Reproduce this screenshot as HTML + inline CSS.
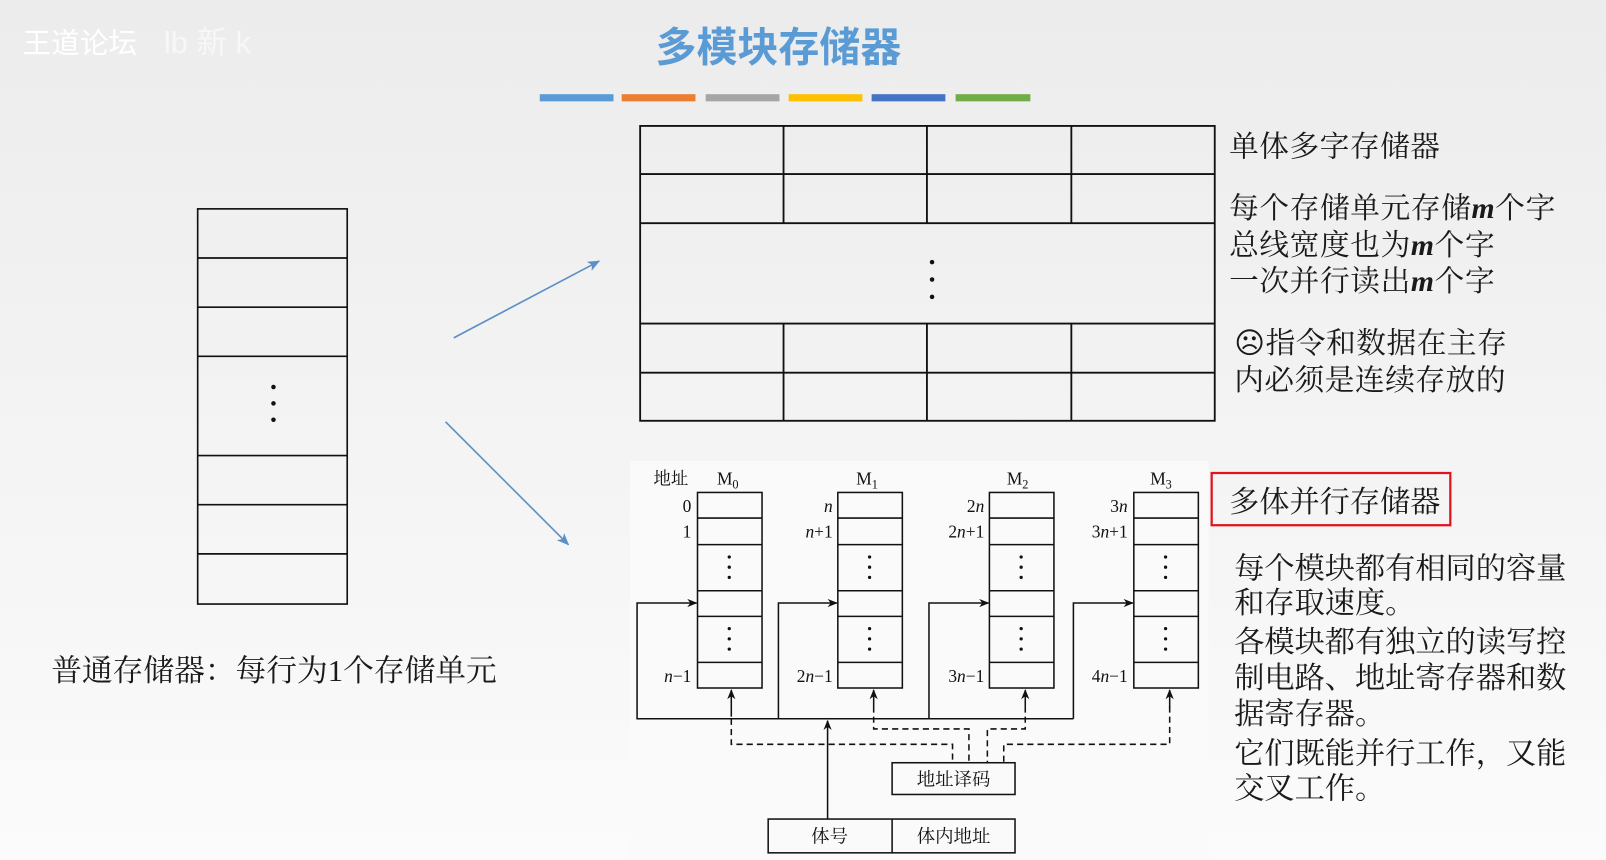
<!DOCTYPE html>
<html><head><meta charset="utf-8"><style>
html,body{margin:0;padding:0;width:1606px;height:860px;overflow:hidden;background:#f2f2f2}
svg{display:block}
.t{font-family:"Liberation Serif","Noto Serif CJK SC",serif;fill:#1a1a1a}
.s{font-family:"Liberation Serif","Noto Serif CJK SC",serif;fill:#111}
</style></head><body>
<svg width="1606" height="860" viewBox="0 0 1568 840" preserveAspectRatio="none" xmlns="http://www.w3.org/2000/svg">
<defs>
<linearGradient id="bg" x1="0" y1="0" x2="0" y2="1"><stop offset="0" stop-color="#ececec"/><stop offset="1" stop-color="#fbfbfb"/></linearGradient>
<marker id="a" markerWidth="10" markerHeight="8" refX="9" refY="4" orient="auto" markerUnits="userSpaceOnUse"><path d="M0,0 L10,4 L0,8 L3,4 Z" fill="#111"/></marker>
<marker id="b" markerWidth="12" markerHeight="10" refX="11" refY="5" orient="auto" markerUnits="userSpaceOnUse"><path d="M0,0 L12,5 L0,10 L3,5 Z" fill="#5b8fc7"/></marker>
</defs>
<rect width="1568" height="840" fill="url(#bg)"/>
<text x="22" y="52" font-family="Liberation Sans,Noto Sans CJK SC,sans-serif" font-size="28" fill="#fff">王道论坛</text>
<text x="160" y="52" font-family="Liberation Sans,Noto Sans CJK SC,sans-serif" font-size="30" fill="#fff" opacity="0.6">lb 新 k</text>
<text x="760" y="60" text-anchor="middle" font-family="Liberation Sans,Noto Sans CJK SC,sans-serif" font-size="40" font-weight="bold" fill="#5b9bd5">多模块存储器</text>
<g>
<rect x="527" y="92" width="72" height="7" fill="#5b9bd5"/>
<rect x="607" y="92" width="72" height="7" fill="#ed7d31"/>
<rect x="689" y="92" width="72" height="7" fill="#a5a5a5"/>
<rect x="770" y="92" width="72" height="7" fill="#ffc000"/>
<rect x="851" y="92" width="72" height="7" fill="#4472c4"/>
<rect x="933" y="92" width="73" height="7" fill="#70ad47"/>
</g>
<g stroke="#111" stroke-width="1.6" fill="none">
<rect x="193" y="204" width="146" height="386"/>
<line x1="193" y1="252" x2="339" y2="252"/><line x1="193" y1="300" x2="339" y2="300"/>
<line x1="193" y1="348" x2="339" y2="348"/><line x1="193" y1="445" x2="339" y2="445"/>
<line x1="193" y1="493" x2="339" y2="493"/><line x1="193" y1="541" x2="339" y2="541"/>
</g>
<g fill="#111"><circle cx="267" cy="378" r="2.2"/><circle cx="267" cy="394" r="2.2"/><circle cx="267" cy="410" r="2.2"/></g>
<text class="t" x="50" y="665" font-size="30">普通存储器：每行为1个存储单元</text>
<line x1="443" y1="330" x2="585" y2="255" stroke="#5b8fc7" stroke-width="1.6" marker-end="url(#b)"/>
<line x1="435" y1="412" x2="555" y2="532" stroke="#5b8fc7" stroke-width="1.6" marker-end="url(#b)"/>
<g stroke="#111" stroke-width="1.8" fill="none">
<rect x="625" y="123" width="561" height="288"/>
<line x1="625" y1="170" x2="1186" y2="170"/><line x1="625" y1="218" x2="1186" y2="218"/>
<line x1="625" y1="316" x2="1186" y2="316"/><line x1="625" y1="364" x2="1186" y2="364"/>
<line x1="765" y1="123" x2="765" y2="218"/><line x1="905" y1="123" x2="905" y2="218"/><line x1="1046" y1="123" x2="1046" y2="218"/>
<line x1="765" y1="316" x2="765" y2="411"/><line x1="905" y1="316" x2="905" y2="411"/><line x1="1046" y1="316" x2="1046" y2="411"/>
</g>
<g fill="#111"><circle cx="910" cy="256" r="2.2"/><circle cx="910" cy="273" r="2.2"/><circle cx="910" cy="290" r="2.2"/></g>
<g class="t" font-size="29">
<text x="1200" y="153" letter-spacing="0.5">单体多字存储器</text>
<text x="1200" y="213" letter-spacing="0.6">每个存储单元存储<tspan font-style="italic" font-weight="bold">m</tspan>个字</text>
<text x="1200" y="249" letter-spacing="0.6">总线宽度也为<tspan font-style="italic" font-weight="bold">m</tspan>个字</text>
<text x="1200" y="284" letter-spacing="0.6">一次并行读出<tspan font-style="italic" font-weight="bold">m</tspan>个字</text>
<text x="1205" y="345" letter-spacing="0.5">☹指令和数据在主存</text>
<text x="1205" y="381" letter-spacing="0.5">内必须是连续存放的</text>
</g>
<rect x="615" y="450" width="565" height="390" fill="#fafafa"/>
<g class="s" font-size="17">
<text x="638" y="473">地址</text>
<text x="700" y="473">M<tspan font-size="12" dy="4">0</tspan></text>
<text x="836" y="473">M<tspan font-size="12" dy="4">1</tspan></text>
<text x="983" y="473">M<tspan font-size="12" dy="4">2</tspan></text>
<text x="1123" y="473">M<tspan font-size="12" dy="4">3</tspan></text>
</g>
<g class="s" font-size="17" text-anchor="end">
<text x="675" y="500">0</text><text x="675" y="525">1</text><text x="675" y="666"><tspan font-style="italic">n</tspan>−1</text>
<text x="813" y="500" font-style="italic">n</text><text x="813" y="525"><tspan font-style="italic">n</tspan>+1</text><text x="813" y="666">2<tspan font-style="italic">n</tspan>−1</text>
<text x="961" y="500">2<tspan font-style="italic">n</tspan></text><text x="961" y="525">2<tspan font-style="italic">n</tspan>+1</text><text x="961" y="666">3<tspan font-style="italic">n</tspan>−1</text>
<text x="1101" y="500">3<tspan font-style="italic">n</tspan></text><text x="1101" y="525">3<tspan font-style="italic">n</tspan>+1</text><text x="1101" y="666">4<tspan font-style="italic">n</tspan>−1</text>
</g>
<g stroke="#111" stroke-width="1.5" fill="none">
<g id="m0"><rect x="681" y="481" width="63" height="191"/><line x1="681" y1="506" x2="744" y2="506"/><line x1="681" y1="532" x2="744" y2="532"/><line x1="681" y1="577" x2="744" y2="577"/><line x1="681" y1="602" x2="744" y2="602"/><line x1="681" y1="647" x2="744" y2="647"/></g>
<use href="#m0" x="137"/><use href="#m0" x="285"/><use href="#m0" x="426"/>
</g>
<g fill="#111">
<g id="d"><circle cx="712" cy="544" r="1.6"/><circle cx="712" cy="554" r="1.6"/><circle cx="712" cy="564" r="1.6"/><circle cx="712" cy="614" r="1.6"/><circle cx="712" cy="624" r="1.6"/><circle cx="712" cy="634" r="1.6"/></g>
<use href="#d" x="137"/><use href="#d" x="285"/><use href="#d" x="426"/>
</g>
<g stroke="#111" stroke-width="1.5" fill="none">
<polyline points="1048,702 622,702 622,589 680,589" marker-end="url(#a)"/>
<polyline points="760,702 760,589 817,589" marker-end="url(#a)"/>
<polyline points="907,702 907,589 965,589" marker-end="url(#a)"/>
<polyline points="1048,702 1048,589 1106,589" marker-end="url(#a)"/>
<line x1="714" y1="700" x2="714" y2="674" marker-end="url(#a)"/>
<line x1="853" y1="690" x2="853" y2="674" marker-end="url(#a)"/>
<line x1="1001" y1="690" x2="1001" y2="674" marker-end="url(#a)"/>
<line x1="808" y1="800" x2="808" y2="704" marker-end="url(#a)"/>
</g>
<g stroke="#111" stroke-width="1.5" fill="none" stroke-dasharray="6,4">
<polyline points="714,702 714,727 930,727 930,745"/>
<polyline points="853,690 853,712 946,712 946,745"/>
<polyline points="1001,690 1001,712 964,712 964,745"/>
<polyline points="1142,690 1142,727 980,727 980,745"/>
</g>
<line x1="1142" y1="692" x2="1142" y2="674" stroke="#111" stroke-width="1.5" marker-end="url(#a)"/>
<g stroke="#111" stroke-width="1.5" fill="#fafafa">
<rect x="871" y="745" width="120" height="31"/>
<rect x="750" y="800" width="241" height="33"/>
<line x1="871" y1="800" x2="871" y2="833"/>
</g>
<g class="s" font-size="18" text-anchor="middle">
<text x="931" y="767">地址译码</text>
<text x="810" y="823">体号</text>
<text x="931" y="823">体内地址</text>
</g>
<rect x="1183" y="462" width="233" height="51" fill="none" stroke="#e0141e" stroke-width="2.2"/>
<g class="t" font-size="29.5">
<text x="1200" y="500">多体并行存储器</text>
<text x="1205" y="565">每个模块都有相同的容量</text>
<text x="1205" y="599">和存取速度。</text>
<text x="1205" y="637">各模块都有独立的读写控</text>
<text x="1205" y="672">制电路、地址寄存器和数</text>
<text x="1205" y="707">据寄存器。</text>
<text x="1205" y="746">它们既能并行工作，又能</text>
<text x="1205" y="780">交叉工作。</text>
</g>
</svg>
</body></html>
